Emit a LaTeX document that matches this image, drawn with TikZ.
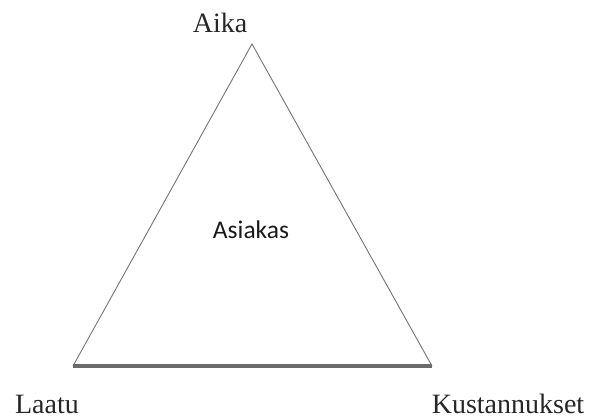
\documentclass[tikz,border=0pt]{standalone}
\usepackage{fontspec}
\setmainfont{Liberation Serif}
\newfontfamily\calib{Carlito}
\begin{document}
\begin{tikzpicture}[x=1pt,y=-1pt,
  lbl/.style={font=\fontsize{28}{30}\selectfont, text=black!85, inner sep=0pt, anchor=base},
  side/.style={draw=black!55, line width=0.9pt},
  basel/.style={draw=black!58, line width=3.2pt}]
\useasboundingbox (0,0) rectangle (595,419);
\coordinate (T) at (252,44);
\coordinate (L) at (73,366);
\coordinate (R) at (432,366);
\draw[side] (L) -- (T) -- (R);
\draw[basel] (L) -- (R);
\node[lbl] (aika) at (220,33) {Aika};
\node[lbl] (laatu) at (47,414) {Laatu};
\node[lbl] (kust) at (508,414) {Kustannukset};
\node[font=\calib\fontsize{25.5}{27}\selectfont, text=black!90, inner sep=0pt, anchor=base] (asiakas) at (251,239) {Asiakas};
\end{tikzpicture}
\end{document}
